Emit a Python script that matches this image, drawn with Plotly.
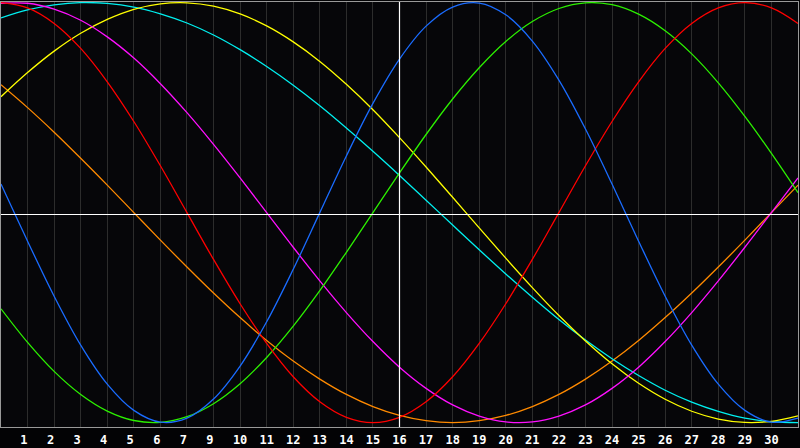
import plotly.graph_objects as go

# day index along the chart (0..30) and the labels shown under gridlines 1..29
days = list(range(31))
tick_pos = list(range(1, 30))
tick_days = [1, 2, 3, 4, 5, 6, 7, 9, 10, 11, 12, 13, 14, 15, 16, 17, 18, 19, 20,
             21, 22, 23, 24, 25, 26, 27, 28, 29, 30]

# curve values, one per day (-1 bottom .. +1 top)
blue = [0.136, -0.136, -0.398, -0.631, -0.817, -0.942, -0.998, -0.979, -0.888, -0.731,
        -0.520, -0.270, 0.000, 0.270, 0.520, 0.731, 0.888, 0.979, 0.998, 0.942,
        0.817, 0.631, 0.398, 0.136, -0.136, -0.398, -0.631, -0.817, -0.942, -0.998, -0.979]
red = [1.000, 0.975, 0.901, 0.782, 0.623, 0.434, 0.223, 0.000, -0.223, -0.434,
       -0.623, -0.782, -0.901, -0.975, -1.000, -0.975, -0.901, -0.782, -0.623, -0.434,
       -0.223, 0.000, 0.223, 0.434, 0.623, 0.782, 0.901, 0.975, 1.000, 0.975, 0.901]
green = [-0.458, -0.618, -0.756, -0.866, -0.945, -0.990, -0.999, -0.972, -0.910, -0.815,
         -0.690, -0.541, -0.372, -0.189, 0.000, 0.189, 0.372, 0.541, 0.690, 0.815,
         0.910, 0.972, 0.999, 0.990, 0.945, 0.866, 0.756, 0.618, 0.458, 0.282, 0.095]
magenta = [0.997, 0.997, 0.969, 0.916, 0.837, 0.736, 0.614, 0.476, 0.325, 0.165,
           0.000, -0.165, -0.325, -0.476, -0.614, -0.736, -0.837, -0.916, -0.969, -0.997,
           -0.997, -0.969, -0.916, -0.837, -0.736, -0.614, -0.476, -0.325, -0.165, 0.000, 0.165]
yellow = [0.552, 0.667, 0.769, 0.854, 0.920, 0.968, 0.994, 0.999, 0.983, 0.946,
          0.889, 0.813, 0.720, 0.611, 0.490, 0.357, 0.217, 0.073, -0.073, -0.217,
          -0.357, -0.490, -0.611, -0.720, -0.813, -0.889, -0.946, -0.983, -0.999, -0.994, -0.968]
orange = [0.609, 0.500, 0.383, 0.259, 0.131, 0.000, -0.131, -0.259, -0.383, -0.500,
          -0.609, -0.707, -0.793, -0.866, -0.924, -0.966, -0.991, -1.000, -0.991, -0.966,
          -0.924, -0.866, -0.793, -0.707, -0.609, -0.500, -0.383, -0.259, -0.131, 0.000, 0.131]
cyan = [0.927, 0.965, 0.989, 1.000, 0.996, 0.979, 0.947, 0.903, 0.846, 0.776,
        0.696, 0.607, 0.509, 0.403, 0.292, 0.177, 0.059, -0.059, -0.177, -0.292,
        -0.403, -0.509, -0.607, -0.696, -0.776, -0.846, -0.903, -0.947, -0.979, -0.996, -1.000]

series = [
    ("orange", orange, "#ff8a00"),
    ("cyan", cyan, "#00f0f0"),
    ("yellow", yellow, "#ffff00"),
    ("magenta", magenta, "#ff10ff"),
    ("green", green, "#2cf000"),
    ("red", red, "#ff0000"),
    ("blue", blue, "#1a6cff"),
]

fig = go.Figure()
for name, vals, col in series:
    fig.add_trace(go.Scatter(x=days, y=vals, mode="lines", name=name,
                             line=dict(color=col, width=1.3, shape="spline"),
                             hoverinfo="skip"))

ticktext = ["<b>%d</b>" % d if d >= 10 else "<b>%d\u00a0</b>" % d for d in tick_days]

# white cross: today marker and the zero line
fig.add_shape(type="line", xref="x", yref="paper", x0=15, x1=15, y0=0, y1=1,
              line=dict(color="white", width=1.2))
fig.add_shape(type="line", xref="paper", yref="paper", x0=0, x1=1, y0=0.5, y1=0.5,
              line=dict(color="white", width=1.2))

fig.update_xaxes(range=[0, 30], tickvals=tick_pos, ticktext=ticktext,
                 showgrid=True, gridcolor="#2c2c2c", gridwidth=1, zeroline=False,
                 showline=True, linecolor="#999999", linewidth=1, mirror=True,
                 ticks="outside", ticklen=2, tickcolor="rgba(0,0,0,0)",
                 tickfont=dict(family="DejaVu Sans Mono", size=12, color="white"),
                 fixedrange=True)
fig.update_yaxes(range=[-1.021, 1.003], showgrid=False, zeroline=False,
                 showticklabels=False, showline=True, linecolor="#999999",
                 linewidth=1, mirror=True, fixedrange=True)

fig.update_layout(
    width=800, height=448,
    margin=dict(l=1, r=1, t=1, b=20),
    paper_bgcolor="#030305",
    plot_bgcolor="#060609",
    showlegend=False,
)

# page has a default 8px body margin; drop it so the chart fills the window
fig.write_html("out.html", config={"displayModeBar": False},
               post_script="document.body.style.margin='0';document.body.style.background='#030305';")
